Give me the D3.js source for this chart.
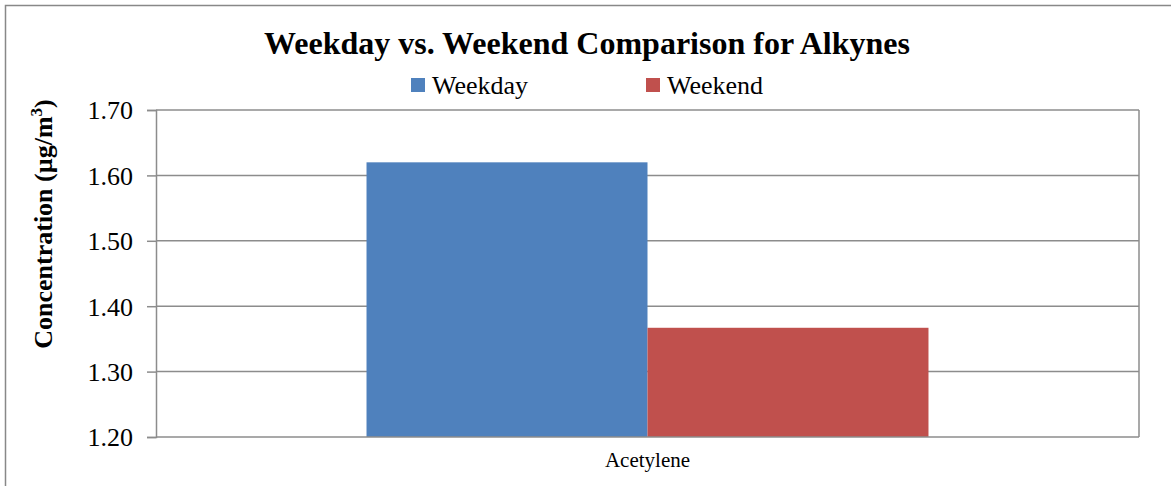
<!DOCTYPE html>
<html>
<head>
<meta charset="utf-8">
<script src="https://cdn.jsdelivr.net/npm/d3@7"></script>
<style>
  html, body { margin: 0; padding: 0; background: #fff; }
  svg { display: block; }
  text { font-family: "Liberation Serif", "Times New Roman", serif; fill: #000; }
</style>
</head>
<body>
<svg id="chart" width="1171" height="486"></svg>
<script>
// Mean concentrations, µg/m³
const categories = ["Acetylene"];
const seriesNames = ["Weekday", "Weekend"];
const weekday = [1.62];
const weekend = [1.367];
const yTicks = [1.20, 1.30, 1.40, 1.50, 1.60, 1.70];
const colors = ["#4F81BD", "#C0504D"];

const svg = d3.select("#chart");
const m = { left: 156, top: 110, right: 1139, bottom: 437 };
const serif = '"Liberation Serif", "Times New Roman", serif';

// Outer chart frame
svg.append("rect")
  .attr("x", 5.5).attr("y", 5.5)
  .attr("width", 1300).attr("height", 600)
  .attr("fill", "#fff").attr("stroke", "#888").attr("stroke-width", 1.5);

const x0 = d3.scaleBand().domain(categories).range([m.left, m.right]).paddingInner(0).paddingOuter(0.3746);
const x1 = d3.scaleBand().domain(seriesNames).range([0, x0.bandwidth()]).padding(0);
const y = d3.scaleLinear().domain([1.2, 1.7]).range([m.bottom, m.top]);

// Horizontal gridlines
svg.append("g")
  .selectAll("line").data(yTicks.slice(1)).join("line")
  .attr("x1", m.left).attr("x2", m.right)
  .attr("y1", d => y(d)).attr("y2", d => y(d))
  .attr("stroke", "#8c8c8c").attr("stroke-width", 1.5);

// Right edge of plot area
svg.append("line")
  .attr("x1", m.right).attr("x2", m.right)
  .attr("y1", m.top).attr("y2", m.bottom)
  .attr("stroke", "#8c8c8c").attr("stroke-width", 1.5);

// Bars
const rows = categories.map((c, i) => ({ cat: c, vals: [weekday[i], weekend[i]] }));
svg.append("g").selectAll("g").data(rows).join("g")
  .attr("transform", d => `translate(${x0(d.cat)},0)`)
  .selectAll("rect").data(d => d.vals.map((v, j) => ({ key: seriesNames[j], v, j })))
  .join("rect")
  .attr("x", d => x1(d.key))
  .attr("width", x1.bandwidth())
  .attr("y", d => y(d.v))
  .attr("height", d => y(1.2) - y(d.v))
  .attr("fill", d => colors[d.j]);

// Y axis
const yAxis = d3.axisLeft(y).tickValues(yTicks).tickFormat(d3.format(".2f")).tickSize(9).tickPadding(14);
const ya = svg.append("g").attr("transform", `translate(${m.left},0)`).call(yAxis);
ya.select(".domain").attr("stroke", "#8c8c8c").attr("stroke-width", 1.5);
ya.selectAll(".tick line").attr("stroke", "#8c8c8c").attr("stroke-width", 1.5);
ya.selectAll(".tick text")
  .style("font-family", serif).style("font-size", "26px").style("fill", "#000")
  .attr("dy", "0.34em");

// X axis
const xAxis = d3.axisBottom(x0).tickSize(0).tickPadding(15);
const xa = svg.append("g").attr("transform", `translate(0,${m.bottom})`).call(xAxis);
xa.select(".domain").attr("d", `M${m.left},0H${m.right}`).attr("stroke", "#8c8c8c").attr("stroke-width", 1.5);
xa.selectAll(".tick text")
  .style("font-family", serif).style("font-size", "21px").style("fill", "#000")
  .attr("dy", "0.71em");

// Title
svg.append("text")
  .attr("x", 587).attr("y", 54)
  .attr("text-anchor", "middle")
  .style("font-family", serif).style("font-size", "32px").style("font-weight", "bold")
  .text("Weekday vs. Weekend Comparison for Alkynes");

// Y axis title
const yt = svg.append("text")
  .attr("transform", "translate(52,224) rotate(-90)")
  .attr("text-anchor", "middle")
  .style("font-family", serif).style("font-size", "26px").style("font-weight", "bold");
yt.append("tspan").text("Concentration (µg/m");
yt.append("tspan").style("font-size", "17px").attr("dy", -10).text("3");
yt.append("tspan").attr("dy", 10).text(")");

// Legend
const legendX = [411, 646];
const lg = svg.append("g").selectAll("g").data(seriesNames).join("g")
  .attr("transform", (d, i) => `translate(${legendX[i]},78)`);
lg.append("rect").attr("width", 14).attr("height", 14).attr("fill", (d, i) => colors[i]);
lg.append("text").attr("x", 21).attr("y", 15.5)
  .style("font-family", serif).style("font-size", "26px")
  .text(d => d);
</script>
</body>
</html>
